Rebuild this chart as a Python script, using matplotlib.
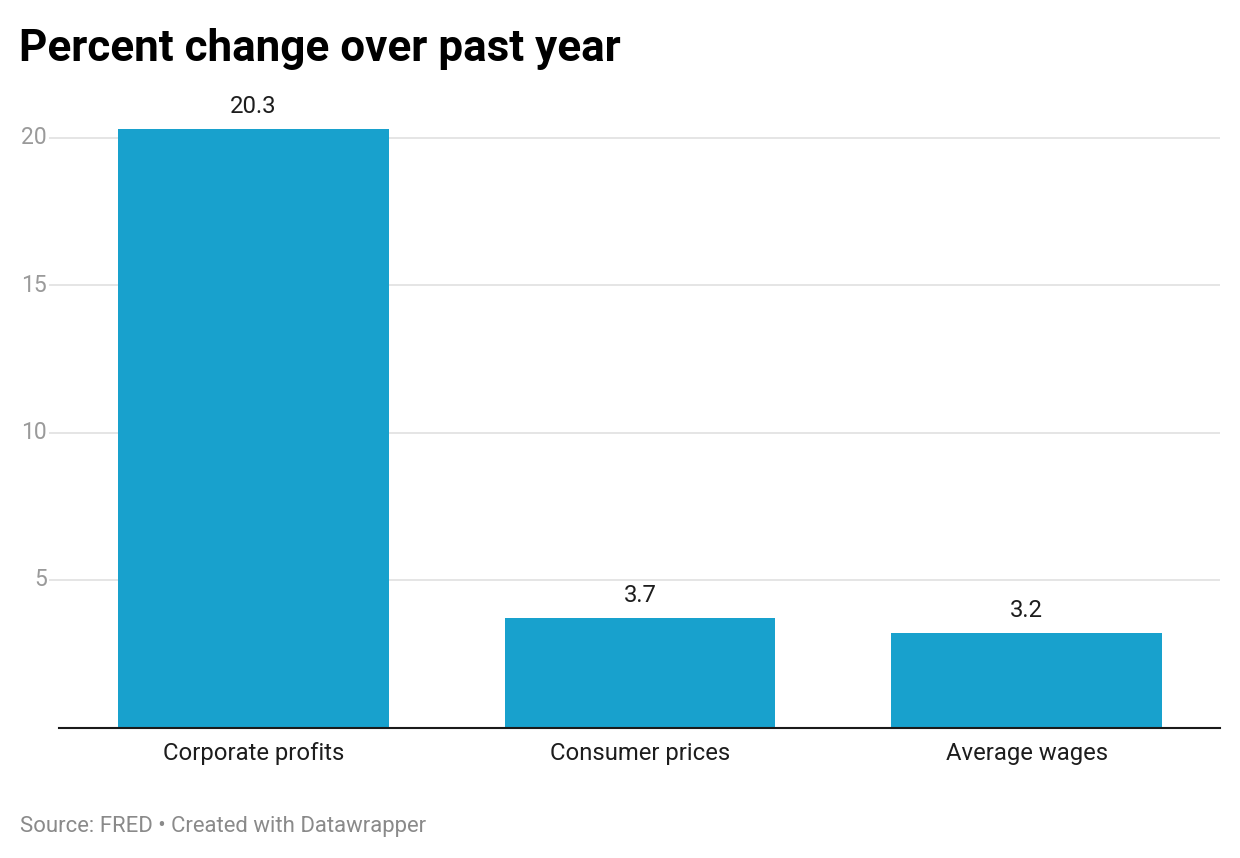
import matplotlib
matplotlib.use("Agg")
import matplotlib.pyplot as plt
from matplotlib.transforms import blended_transform_factory

categories = ["Corporate profits", "Consumer prices", "Average wages"]
values = [20.3, 3.7, 3.2]
value_labels = ["20.3", "3.7", "3.2"]
yticks = [5, 10, 15, 20]
ytick_labels = ["5", "10", "15", "20"]

title = "Percent change over past year"
source = "Source: FRED \u2022 Created with Datawrapper"

plt.rcParams["font.family"] = ["Roboto", "DejaVu Sans"]

W, H = 1240, 858
fig = plt.figure(figsize=(W / 100, H / 100), dpi=100)

# axes geometry in pixels
ax_left_px, ax_right_px = 49, 1220
ax_bottom_px, ax_top_px = 727.5, 108.0
ax = fig.add_axes([ax_left_px / W, 1 - ax_bottom_px / H,
                   (ax_right_px - ax_left_px) / W, (ax_bottom_px - ax_top_px) / H])

x = list(range(len(categories)))
ax.bar(x, values, width=0.70, color="#18a1cd", zorder=2)

spacing = 387.0
ax.set_xlim(-0.5 - 11 / spacing, 2.5)
ax.set_ylim(0, 21)

ax.set_xticks(x)
ax.set_xticklabels(categories)
ax.set_yticks(yticks)
ax.set_yticklabels([])

ax.grid(axis="y", color="#e3e3e3", linewidth=1.3, zorder=0)
ax.set_axisbelow(True)

for s in ["top", "right", "left"]:
    ax.spines[s].set_visible(False)
ax.spines["bottom"].set_color("#1a1a1a")
ax.spines["bottom"].set_linewidth(1.5)
ax.spines["bottom"].set_bounds(-0.5 - 1 / spacing, 2.5)
ax.spines["bottom"].set_zorder(3)

ax.tick_params(axis="y", length=0, pad=0)
ax.tick_params(axis="x", length=0, pad=10.5, labelsize=17.2, labelcolor="#1d1d1d")

# y tick labels right-aligned ending at x=47px
trans = blended_transform_factory(fig.transFigure, ax.transData)
for v, t in zip(yticks, ytick_labels):
    ax.text(47 / W, v, t, transform=trans, ha="right", va="center",
            fontsize=16.5, color="#9a9a9a")

for xi, v, lab in zip(x, values, value_labels):
    ax.annotate(lab, (xi, v), xytext=(0, 11.5), textcoords="offset points",
                ha="center", va="baseline", fontsize=17.2, color="#1d1d1d")

fig.text(19 / W, 1 - 61 / H, title, fontsize=31.7, fontweight="bold",
         color="#000000", ha="left", va="baseline")
fig.text(20 / W, 1 - 832 / H, source, fontsize=15.9, color="#8a8a8a",
         ha="left", va="baseline")

fig.savefig("out.png", dpi=100, facecolor="white")
